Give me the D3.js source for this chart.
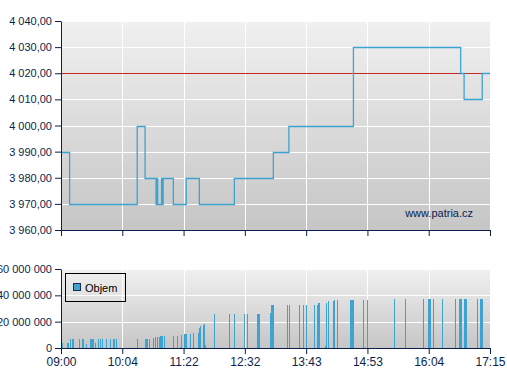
<!DOCTYPE html>
<html>
<head>
<meta charset="utf-8">
<script src="https://cdn.jsdelivr.net/npm/d3@7"></script>
<style>
  body { margin: 0; background: #fff; }
  text { font-family: "Liberation Sans", Arial, sans-serif; }
</style>
</head>
<body>
<div id="chart"></div>
<script>
// osa x - popisky casu
let tickLabels = ["09:00", "10:04", "11:22", "12:32", "13:43", "14:53", "16:04", "17:15"]
let priceTicks = [3960, 3970, 3980, 3990, 4000, 4010, 4020, 4030, 4040]
let volTicks = [0, 20e6, 40e6, 60e6]
let prevClose = 4020

// kurz - zmeny ceny (schody)
let priceTimes = ["09:00", "09:09", "10:23", "10:33", "10:47", "10:48", "10:49", "10:54", "10:55", "10:56",
  "11:09", "11:25", "11:40", "12:20", "13:05", "13:23", "14:37", "16:41", "16:45", "17:06", "17:15"]
let priceValues = [3990, 3970, 4000, 3980, 3970, 3980, 3970, 3980, 3970, 3980,
  3970, 3980, 3970, 3980, 3990, 4000, 4030, 4020, 4010, 4020, 4020]

// objem (v milionech)
let volTimes = ["09:01", "09:06", "09:07", "09:09", "09:12", "09:13", "09:19", "09:22", "09:23", "09:26",
  "09:30", "09:31", "09:32", "09:33", "09:35", "09:39", "09:41", "09:43", "09:47", "09:51",
  "09:54", "09:55", "09:57", "10:23", "10:33", "10:34", "10:35", "10:38", "10:43", "10:46",
  "10:48", "10:51", "10:52", "10:53", "10:54", "10:57", "11:09", "11:14", "11:17", "11:19",
  "11:23", "11:24", "11:25", "11:29", "11:33", "11:38", "11:40", "11:41", "11:44", "11:45",
  "11:46", "11:57", "12:14", "12:20", "12:31", "12:35", "12:46", "12:47", "12:48", "13:01",
  "13:02", "13:03", "13:04", "13:05", "13:21", "13:23", "13:35", "13:39", "13:43", "13:52",
  "13:55", "13:57", "13:58", "14:04", "14:06", "14:08", "14:14", "14:15", "14:18", "14:33",
  "14:34", "14:35", "14:37", "14:48", "14:53", "15:24", "15:37", "15:57", "16:03", "16:04",
  "16:05", "16:09", "16:19", "16:35", "16:39", "16:40", "16:41", "16:45", "16:46", "16:47",
  "17:00", "17:03", "17:04", "17:05", "17:06"]
let volValues = [4.0, 4.0, 4.0, 6.8, 6.8, 6.8, 6.8, 6.8, 6.8, 3.2,
  6.8, 6.8, 6.8, 6.8, 4.0, 6.8, 6.8, 6.8, 6.8, 6.8,
  6.8, 6.8, 6.8, 6.8, 6.8, 6.8, 6.8, 6.8, 7.5, 8.2,
  8.5, 8.2, 9.3, 9.3, 9.3, 9.3, 9.3, 9.3, 1.0, 10.0,
  10.8, 10.8, 10.8, 10.8, 11.6, 11.6, 15.4, 16.9, 17.5, 18.4,
  2.0, 26.0, 26.0, 26.0, 26.0, 26.0, 26.0, 26.0, 26.0, 26.7,
  32.8, 32.8, 32.8, 32.8, 32.8, 32.8, 32.8, 32.8, 32.8, 32.8,
  32.8, 34.3, 34.3, 1.8, 34.3, 35.8, 35.8, 36.6, 36.6, 36.6,
  36.6, 36.6, 36.6, 36.6, 36.6, 37.3, 37.3, 37.3, 37.3, 37.3,
  37.3, 37.3, 37.3, 37.3, 37.3, 37.3, 37.3, 37.3, 37.3, 37.3,
  37.3, 37.3, 37.3, 37.3, 37.3]

let parseT = d3.timeParse("%H:%M")
let navy = "#0b1f4e"
let blue = "#3fa3d1"

let svg = d3.select('#chart').append('svg')
  .attr('width', 507).attr('height', 380)

let left = 61, right = 490
let top1 = 21, bottom1 = 230
let top2 = 269, bottom2 = 348

// casova osa je po usecich (popisky rovnomerne)
let xScale = d3.scaleTime()
  .domain(tickLabels.map(parseT))
  .range(tickLabels.map((d, i) => left + i * (right - left) / (tickLabels.length - 1)))

let yPrice = d3.scaleLinear().domain([3960, 4040]).range([bottom1, top1])
let yVol = d3.scaleLinear().domain([0, 60e6]).range([bottom2, top2])

let defs = svg.append('defs')
let grad = defs.append('linearGradient').attr('id', 'bg')
  .attr('x1', 0).attr('y1', 0).attr('x2', 0).attr('y2', 1)
grad.append('stop').attr('offset', '0%').attr('stop-color', '#f0f0f0')
grad.append('stop').attr('offset', '100%').attr('stop-color', '#c6c6c6')

function panel(top, bottom, yScale, ticks) {
  svg.append('rect')
    .attr('x', left).attr('y', top)
    .attr('width', right - left).attr('height', bottom - top)
    .style('fill', 'url(#bg)')
  let g = svg.append('g').attr('shape-rendering', 'crispEdges')
  g.selectAll('.hg').data(ticks).enter().append('line')
    .attr('x1', left).attr('x2', right)
    .attr('y1', d => Math.round(yScale(d)) + 0.5).attr('y2', d => Math.round(yScale(d)) + 0.5)
    .style('stroke', '#fff')
  g.selectAll('.vg').data(xScale.domain()).enter().append('line')
    .attr('x1', d => Math.round(xScale(d)) + 0.5).attr('x2', d => Math.round(xScale(d)) + 0.5)
    .attr('y1', top).attr('y2', bottom)
    .style('stroke', '#fff')
}

panel(top1, bottom1, yPrice, priceTicks)
panel(top2, bottom2, yVol, volTicks)

// predchozi zaviraci kurz
svg.append('line')
  .attr('shape-rendering', 'crispEdges')
  .attr('x1', left).attr('x2', right)
  .attr('y1', Math.round(yPrice(prevClose)) + 0.5).attr('y2', Math.round(yPrice(prevClose)) + 0.5)
  .style('stroke', '#c42a22').style('stroke-width', 1)

let priceData = priceTimes.map((t, i) => ({ t: parseT(t), v: priceValues[i] }))
let line = d3.line()
  .x(d => xScale(d.t))
  .y(d => Math.round(yPrice(d.v)) + 0.5)
  .curve(d3.curveStepAfter)
svg.append('path').datum(priceData)
  .attr('d', line)
  .style('fill', 'none').style('stroke', blue).style('stroke-width', 1.3)

svg.append('text')
  .attr('x', 473).attr('y', 217)
  .attr('text-anchor', 'end')
  .style('font-size', '11px').style('fill', navy)
  .text('www.patria.cz')

// objem
let volData = volTimes.map((t, i) => ({ t: parseT(t), v: volValues[i] * 1e6 }))
svg.append('g').attr('shape-rendering', 'crispEdges')
  .selectAll('rect').data(volData).enter().append('rect')
  .attr('x', d => Math.round(xScale(d.t)))
  .attr('y', d => yVol(d.v))
  .attr('width', 1)
  .attr('height', d => bottom2 - yVol(d.v))
  .style('fill', blue)

// osy
let fmtPrice = v => d3.format(',.2f')(v).replace(',', ' ').replace('.', ',')
let fmtVol = v => d3.format(',')(v).replace(/,/g, ' ')

function styleAxis(g) {
  g.select('.domain').style('stroke', navy)
  g.selectAll('.tick line').style('stroke', navy)
  g.selectAll('.tick text').style('fill', navy).style('font-size', '11px')
    .style('font-family', '"Liberation Sans", Arial, sans-serif')
}

svg.append('g').attr('transform', `translate(${left},0)`)
  .call(d3.axisLeft(yPrice).tickValues(priceTicks).tickFormat(fmtPrice).tickSizeOuter(0).tickPadding(3))
  .call(styleAxis)

svg.append('g').attr('transform', `translate(0,${bottom1})`)
  .call(d3.axisBottom(xScale).tickValues(xScale.domain()).tickFormat('').tickSizeOuter(0))
  .call(styleAxis)

svg.append('g').attr('transform', `translate(${left},0)`)
  .call(d3.axisLeft(yVol).tickValues(volTicks).tickFormat(fmtVol).tickSizeOuter(0).tickPadding(3))
  .call(styleAxis)

svg.append('g').attr('transform', `translate(0,${bottom2})`)
  .call(d3.axisBottom(xScale).tickValues(xScale.domain()).tickFormat(d3.timeFormat('%H:%M')).tickSizeOuter(0).tickPadding(3))
  .call(styleAxis)
  .selectAll('.tick text').style('font-size', '12px')

// legenda
let leg = svg.append('g').attr('shape-rendering', 'crispEdges')
leg.append('rect').attr('x', 65.5).attr('y', 273.5).attr('width', 60).attr('height', 28)
  .style('fill', 'none').style('stroke', '#000')
leg.append('rect').attr('x', 73.5).attr('y', 283.5).attr('width', 7).attr('height', 7)
  .style('fill', blue).style('stroke', '#1a2a4a')
leg.append('text').attr('x', 85).attr('y', 292)
  .style('font-size', '11px').style('fill', '#000')
  .text('Objem')
</script>
</body>
</html>
